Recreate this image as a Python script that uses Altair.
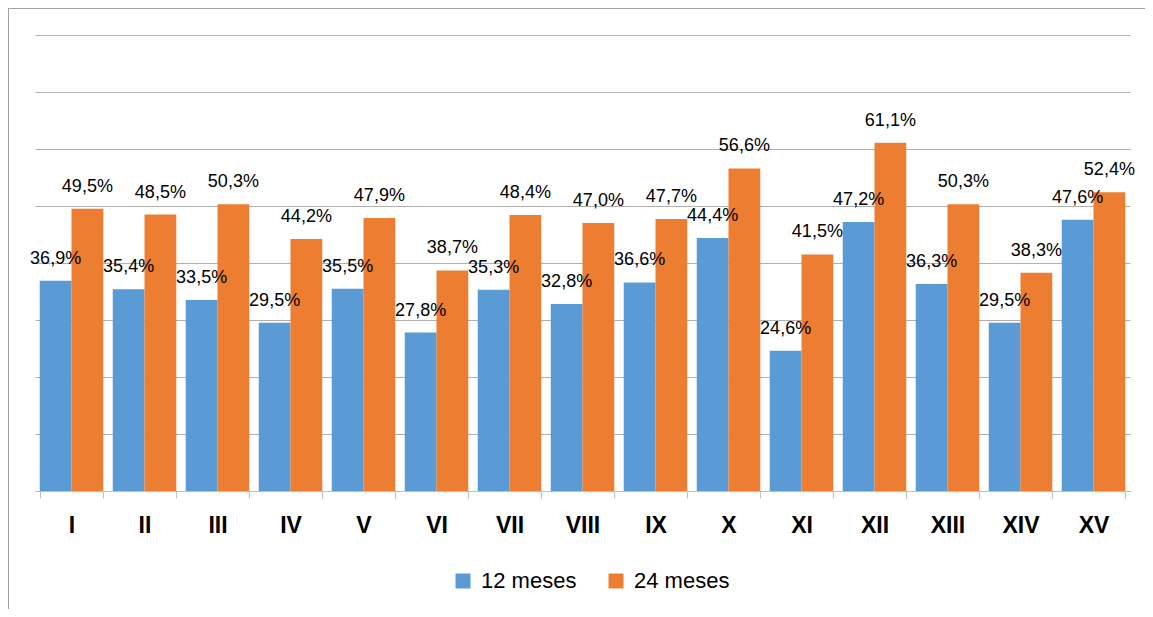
import altair as alt
import pandas as pd

categorias = ["I", "II", "III", "IV", "V", "VI", "VII", "VIII", "IX", "X",
              "XI", "XII", "XIII", "XIV", "XV"]
series = ["12 meses", "24 meses"]
valores_12 = [36.9, 35.4, 33.5, 29.5, 35.5, 27.8, 35.3, 32.8, 36.6, 44.4,
              24.6, 47.2, 36.3, 29.5, 47.6]
valores_24 = [49.5, 48.5, 50.3, 44.2, 47.9, 38.7, 48.4, 47.0, 47.7, 56.6,
              41.5, 61.1, 50.3, 38.3, 52.4]
colores = ["#5b9bd5", "#ed7d31"]

rows = []
for c, a, b in zip(categorias, valores_12, valores_24):
    rows.append({"cat": c, "serie": series[0], "valor": a})
    rows.append({"cat": c, "serie": series[1], "valor": b})
df = pd.DataFrame(rows)
df["etiqueta"] = df["valor"].map(lambda v: f"{v:.1f}".replace(".", ",") + "%")

FONT = "Liberation Sans"

x = alt.X("cat:N", sort=categorias,
          scale=alt.Scale(paddingInner=0.13, paddingOuter=0.065),
          axis=alt.Axis(title=None, labelAngle=0, labelFont=FONT,
                        labelFontWeight="bold", labelFontSize=23,
                        labelColor="#000000", labelPadding=16,
                        tickBand="extent", tickSize=7,
                        domainColor="#bfbfbf", tickColor="#bfbfbf",
                        grid=False))
xo = alt.XOffset("serie:N", sort=series,
                 scale=alt.Scale(paddingInner=0, paddingOuter=0))
y = alt.Y("valor:Q", scale=alt.Scale(domain=[0, 80], nice=False),
          axis=alt.Axis(title=None, labels=False, ticks=False, domain=False,
                        values=list(range(0, 90, 10)),
                        gridColor="#b0b0b0", gridWidth=1))

bars = alt.Chart(df).mark_bar().encode(
    x=x, xOffset=xo, y=y,
    color=alt.Color("serie:N", sort=series,
                    scale=alt.Scale(domain=series, range=colores),
                    legend=alt.Legend(title=None, orient="none",
                                      legendX=417, legendY=535,
                                      direction="horizontal",
                                      symbolType="square", symbolSize=225,
                                      symbolStrokeWidth=0,
                                      labelFont=FONT, labelFontSize=22,
                                      labelColor="#000000", labelOffset=7,
                                      columnPadding=28, padding=0)),
)

labels = alt.Chart(df).mark_text(
    baseline="alphabetic", dy=-17, font=FONT, fontSize=18, color="#000000"
).encode(x=x, xOffset=xo, y=y, text="etiqueta:N")

frame_data = alt.Data(values=[{"k": 1}])
left_border = alt.Chart(frame_data).mark_rule(color="#a0a0a0", strokeWidth=1).encode(
    x=alt.value(-26.5), y=alt.value(-27), y2=alt.value(600))
top_border = alt.Chart(frame_data).mark_rule(color="#a0a0a0", strokeWidth=1).encode(
    y=alt.value(-26.5), x=alt.value(-27), x2=alt.value(1200))

chart = alt.layer(bars, labels, left_border, top_border).properties(
    width=1095, height=456,
    background="white",
    autosize=alt.AutoSizeParams(type="none"),
    padding={"left": 27, "top": 27, "right": 15, "bottom": 118},
).configure_view(strokeWidth=0, stroke=None)

chart.save("out.html", embed_options={"renderer": "svg", "actions": False})
